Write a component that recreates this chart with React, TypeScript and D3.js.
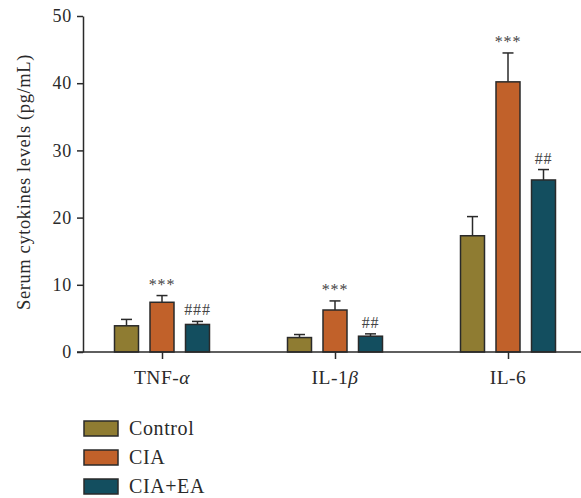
import * as d3 from "d3";
import { useRef, useEffect } from "react";

const categories = ["TNF-α", "IL-1β", "IL-6"];
const groups = ["Control", "CIA", "CIA+EA"];
const means = [
  [3.9, 7.4, 4.1],
  [2.15, 6.25, 2.35],
  [17.3, 40.2, 25.6],
];
const errors = [
  [0.95, 1.0, 0.45],
  [0.45, 1.35, 0.35],
  [2.85, 4.3, 1.55],
];
const marks = [
  ["", "***", "###"],
  ["", "***", "##"],
  ["", "***", "##"],
];
const yTicks = [0, 10, 20, 30, 40, 50];
const colors = ["#8f7c32", "#c1612a", "#134e5f"];

const App = () => {
  const svgRef = useRef(null);
  const width = 581;
  const height = 498;

  useEffect(() => {
    const svg = d3.select(svgRef.current);
    svg.selectAll("*").remove();
    const font = "'Liberation Serif', 'DejaVu Serif', serif";
    const ink = "#2a2a2a";

    const y = d3.scaleLinear().domain([0, 50]).range([352, 16]);
    const x = d3.scalePoint().domain(categories).range([162, 508]);
    const xi = d3.scaleBand().domain(groups).range([-59, 59]).padding(0.324);

    // bars
    categories.forEach((cat, ci) => {
      const g = svg.append("g").attr("transform", `translate(${x(cat)},0)`);
      groups.forEach((grp, gi) => {
        const v = means[ci][gi];
        const e = errors[ci][gi];
        const bx = xi(grp);
        const cx = bx + xi.bandwidth() / 2;
        g.append("line")
          .attr("x1", cx).attr("x2", cx)
          .attr("y1", y(v)).attr("y2", y(v + e))
          .attr("stroke", ink).attr("stroke-width", 1.5);
        g.append("line")
          .attr("x1", cx - 5.5).attr("x2", cx + 5.5)
          .attr("y1", y(v + e)).attr("y2", y(v + e))
          .attr("stroke", ink).attr("stroke-width", 1.5);
        g.append("rect")
          .attr("x", bx).attr("width", xi.bandwidth())
          .attr("y", y(v)).attr("height", y(0) - y(v))
          .attr("fill", colors[gi])
          .attr("stroke", ink).attr("stroke-width", 1.5);
        if (marks[ci][gi]) {
          g.append("text")
            .attr("x", cx).attr("y", y(v + e) - 6)
            .attr("text-anchor", "middle")
            .attr("font-family", font).attr("font-size", 16)
            .attr("letter-spacing", 0.8)
            .attr("fill", "#444")
            .text(marks[ci][gi]);
        }
      });
    });

    // y axis
    const yAxis = svg.append("g")
      .attr("transform", "translate(83,0)")
      .call(d3.axisLeft(y).tickValues(yTicks).tickSize(6).tickPadding(5).tickSizeOuter(0));
    yAxis.select(".domain").attr("stroke", ink).attr("stroke-width", 1.5);
    yAxis.selectAll("line").attr("stroke", ink).attr("stroke-width", 1.5);
    yAxis.selectAll("text")
      .attr("font-family", font).attr("font-size", 18).attr("letter-spacing", 0.8).attr("fill", ink);

    // x axis
    svg.append("line")
      .attr("x1", 77).attr("x2", 581)
      .attr("y1", y(0)).attr("y2", y(0))
      .attr("stroke", ink).attr("stroke-width", 1.5);
    const xAxis = svg.append("g")
      .attr("transform", `translate(0,${y(0)})`)
      .call(d3.axisBottom(x).tickSize(7).tickPadding(11).tickSizeOuter(0));
    xAxis.select(".domain").remove();
    xAxis.selectAll("line").attr("stroke", ink).attr("stroke-width", 1.5);
    xAxis.selectAll("text").remove();
    categories.forEach((cat) => {
      const t = svg.append("text")
        .attr("x", x(cat)).attr("y", 384)
        .attr("text-anchor", "middle")
        .attr("font-family", font).attr("font-size", 19.5)
        .attr("letter-spacing", 0.5).attr("fill", ink);
      const m = cat.match(/^(.*?)([αβ]?)$/);
      t.append("tspan").text(m[1]);
      if (m[2]) t.append("tspan").attr("font-style", "italic").text(m[2]);
    });

    // y label
    svg.append("text")
      .attr("transform", `translate(30,${182}) rotate(-90)`)
      .attr("text-anchor", "middle")
      .attr("font-family", font).attr("font-size", 18.5)
      .attr("letter-spacing", 0.6).attr("fill", ink)
      .text("Serum cytokines levels (pg/mL)");

    // legend
    const leg = svg.append("g").attr("transform", "translate(84,0)");
    groups.forEach((grp, gi) => {
      const cy = 428.5 + gi * 29;
      leg.append("rect")
        .attr("x", 0).attr("y", cy - 7.5)
        .attr("width", 34).attr("height", 15)
        .attr("fill", colors[gi])
        .attr("stroke", ink).attr("stroke-width", 1.5);
      leg.append("text")
        .attr("x", 45).attr("y", cy + 6.5)
        .attr("font-family", font).attr("font-size", 20)
        .attr("letter-spacing", 0.6).attr("fill", ink)
        .text(grp);
    });
  }, []);

  return <svg ref={svgRef} width={width} height={height} style={{ position: "absolute", left: 0, top: 0 }} />;
};

export default App;
